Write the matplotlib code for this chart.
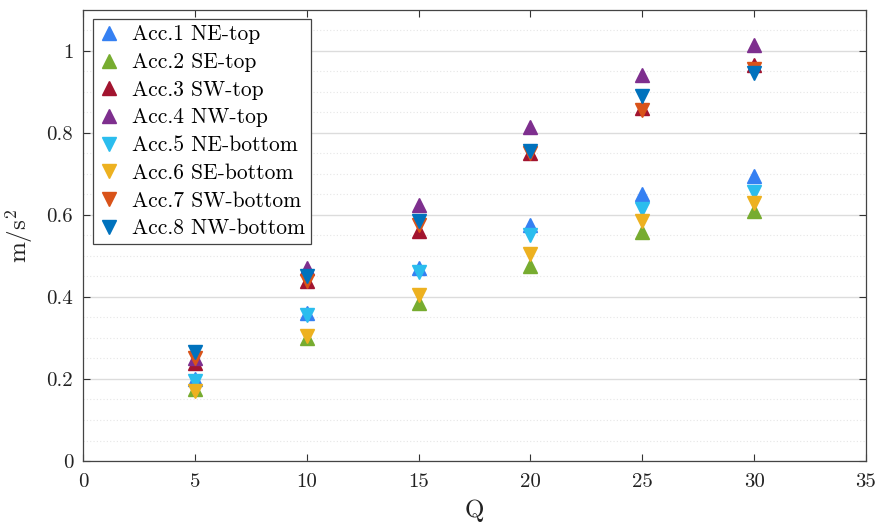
import matplotlib
matplotlib.use("Agg")
import matplotlib.pyplot as plt
from matplotlib.ticker import MultipleLocator

plt.rcParams['font.family'] = 'cmr10'
plt.rcParams['mathtext.fontset'] = 'cm'
plt.rcParams['axes.formatter.use_mathtext'] = True

q = [5, 10, 15, 20, 25, 30]

acc1_ne_top = [0.200, 0.360, 0.470, 0.575, 0.650, 0.695]
acc2_se_top = [0.175, 0.300, 0.385, 0.475, 0.558, 0.610]
acc3_sw_top = [0.240, 0.440, 0.560, 0.752, 0.860, 0.965]
acc4_nw_top = [0.250, 0.470, 0.625, 0.815, 0.940, 1.015]
acc5_ne_bottom = [0.195, 0.355, 0.460, 0.550, 0.615, 0.655]
acc6_se_bottom = [0.170, 0.305, 0.405, 0.505, 0.585, 0.630]
acc7_sw_bottom = [0.250, 0.440, 0.575, 0.752, 0.855, 0.955]
acc8_nw_bottom = [0.265, 0.450, 0.585, 0.755, 0.890, 0.945]

x_ticks = [0, 5, 10, 15, 20, 25, 30, 35]
y_ticks = [0, 0.2, 0.4, 0.6, 0.8, 1.0]
y_tick_labels = ['0', '0.2', '0.4', '0.6', '0.8', '1']

series = [
    ("Acc.1 NE-top", acc1_ne_top, '^', '#3580F2'),
    ("Acc.2 SE-top", acc2_se_top, '^', '#77AC30'),
    ("Acc.3 SW-top", acc3_sw_top, '^', '#A2142F'),
    ("Acc.4 NW-top", acc4_nw_top, '^', '#7E2F8E'),
    ("Acc.5 NE-bottom", acc5_ne_bottom, 'v', '#2BBDEE'),
    ("Acc.6 SE-bottom", acc6_se_bottom, 'v', '#EDB120'),
    ("Acc.7 SW-bottom", acc7_sw_bottom, 'v', '#D95319'),
    ("Acc.8 NW-bottom", acc8_nw_bottom, 'v', '#0072BD'),
]

fig = plt.figure(figsize=(8.78, 5.29), dpi=100)
ax = fig.add_axes([0.0945, 0.1285, 0.8918, 0.853])

for label, vals, mk, col in series:
    ax.plot(q, vals, linestyle='none', marker=mk, markersize=10.5,
            color=col, markeredgecolor=col, label=label)

ax.set_xlim(0, 35)
ax.set_ylim(0, 1.1)
ax.set_xticks(x_ticks)
ax.set_xticklabels([str(v) for v in x_ticks])
ax.set_yticks(y_ticks)
ax.set_yticklabels(y_tick_labels)
ax.yaxis.set_minor_locator(MultipleLocator(0.05))

ax.grid(True, which='major', axis='y', color='#dcdcdc', linewidth=1.0)
ax.grid(True, which='minor', axis='y', color='#e6e6e6', linewidth=0.8,
        linestyle=(0, (1, 2)))
ax.set_axisbelow(True)

ax.tick_params(which='major', direction='in', top=True, right=True,
               length=5, width=0.8, color='#333333', labelsize=15,
               labelcolor='#222222')
ax.tick_params(axis='x', pad=9)
ax.tick_params(axis='y', pad=7)
ax.tick_params(which='minor', left=False, right=False)
for s in ax.spines.values():
    s.set_color('#444444')
    s.set_linewidth(0.9)

ax.set_xlabel('Q', fontsize=18, color='#222222', labelpad=6)
ax.set_ylabel(r'$\mathrm{m/s^2}$', fontsize=18, color='#222222', labelpad=8)

leg = ax.legend(loc='upper left', fontsize=15.5, frameon=True, fancybox=False,
                edgecolor='#444444', framealpha=1, handlelength=1.0,
                handletextpad=0.6, labelspacing=0.38, borderpad=0.25,
                borderaxespad=0.45)
leg.get_frame().set_linewidth(0.9)

fig.savefig('out.png', dpi=100)
